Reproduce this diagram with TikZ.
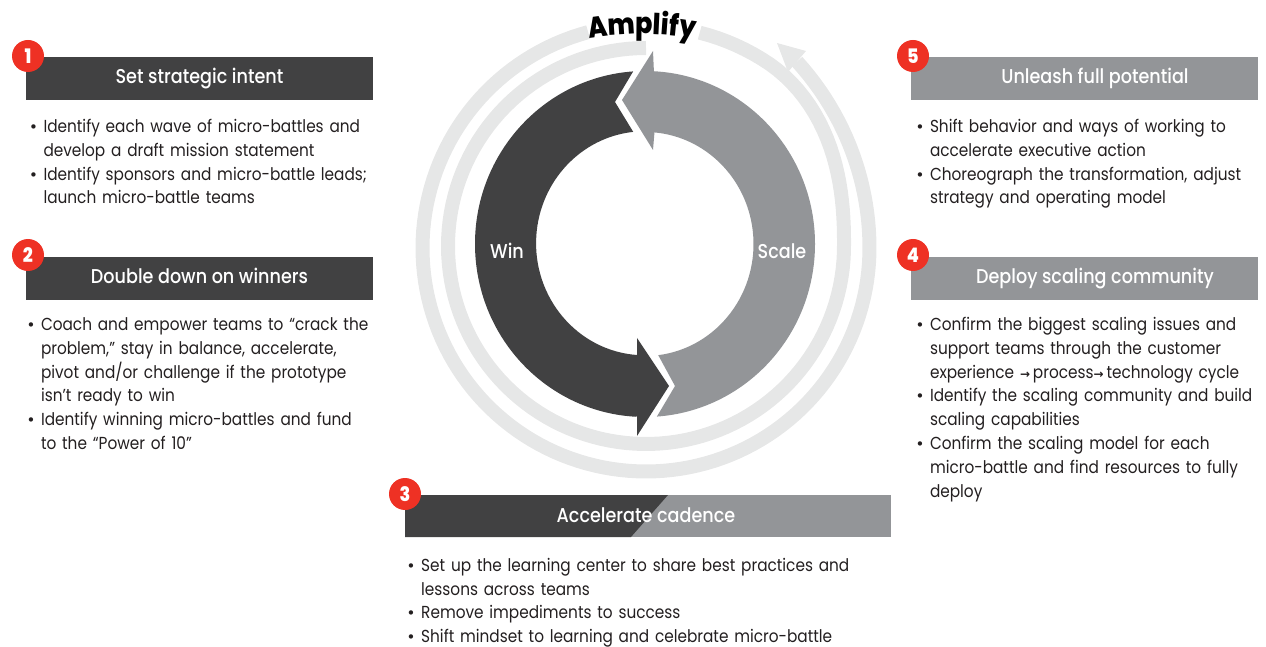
\documentclass[tikz,border=0pt]{standalone}
\usepackage{fontspec}
\setmainfont[FakeStretch=0.88]{Poppins}
\newfontfamily\headfont[FakeStretch=0.88]{Poppins Medium}
\newfontfamily\symfont{DejaVu Sans}
\usetikzlibrary{
  calc,
  decorations.text,
  positioning,
}
\definecolor{wincolor}{HTML}{414142}
\definecolor{scalecolor}{HTML}{939598}
\definecolor{ringcolor}{HTML}{E6E7E7}
\definecolor{badgecolor}{HTML}{EE3124}
\definecolor{bodycolor}{HTML}{231F20}
\newcommand{\bul}[2][14.5pt]{\par\hangindent=#1\hangafter=1\noindent\makebox[#1][l]{{\symfont\fontsize{15}{15}\selectfont •}}#2\par}
\newcommand{\toarrow}{{\symfont\bfseries\fontsize{12}{12}\selectfont →}}
\tikzset{
  headbox/.style={minimum width=347pt, minimum height=43pt, inner sep=0pt, text=white,
    text height=14pt, text depth=3pt, font=\headfont\fontsize{20}{22}\selectfont},
  winhead/.style={headbox, fill=wincolor},
  scalehead/.style={headbox, fill=scalecolor},
  badge/.style={circle, fill=badgecolor, minimum size=32pt, inner sep=0pt, text=white,
    font=\headfont\bfseries\fontsize{20}{22}\selectfont},
  listtext/.style={text width=350pt, align=left, inner sep=0pt, text=bodycolor,
    font=\fontsize{17.4}{23.9}\selectfont},
  ringline/.style={draw=ringcolor, line width=14pt},
  looplabel/.style={text=white, inner sep=0pt, font=\headfont\fontsize{20}{22}\selectfont},
  declare function={
    stepone(\t)=min(1,max(0,(\t-360)/57));
    ringone(\t)=198+2*sin(\t)+22*stepone(\t)*stepone(\t)*(3-2*stepone(\t));
    steptwo(\t)=max(0,(\t-360)/51);
    ringtwo(\t)=223.5+16.5*steptwo(\t)*steptwo(\t);
  },
}
\begin{document}
\begin{tikzpicture}[x=1pt, y=1pt]
  \useasboundingbox (0,0) rectangle (1266,646);
  \coordinate (ringcenter) at (646,398);
  \coordinate (loopcenter) at (645,402);

  % spiral
  \begin{scope}[shift={(ringcenter)}]
    \draw [ringline] plot [domain=90:436, samples=140] (\x:{ringone(\x)});
    \draw [ringline] plot [domain=105:411, samples=140] (\x:{ringtwo(\x)});
  \end{scope}
  \fill [ringcolor] (777,603) -- (806,595) -- (788,574) -- cycle;

  % big arrows
  \fill [wincolor] ($(loopcenter)+(94:170 and 173)$)
    arc [start angle=94, end angle=267, x radius=170, y radius=173]
    -- (637,230) -- (637,210) -- (669,260) -- (637,308) -- (637,291)
    arc [start angle=266, end angle=96, x radius=108.5, y radius=112]
    -- (615,544) -- cycle;
  \fill [scalecolor] ($(loopcenter)+(87:170 and 173)$)
    arc [start angle=87, end angle=-86, x radius=170, y radius=173]
    -- (675,260) -- ($(loopcenter)+(-83:108.5 and 112)$)
    arc [start angle=-83, end angle=85, x radius=108.5, y radius=112]
    -- (653,496) -- (622,546) -- (653,595) -- cycle;
  \node [looplabel] (win) at (507,395) {Win};
  \node [looplabel] (scale) at (782,395) {Scale};
  \path [decorate, decoration={text along path, text align=center,
      text={|\headfont\bfseries\fontsize{29}{29}\selectfont|Amplify}}]
    (642,300) ++(102:312) arc [start angle=102, end angle=78, radius=312];

  % left column
  \node [winhead] (intent) at (199.5,567.5) {Set strategic intent};
  \node [winhead] (winners) at (199.5,367.5) {Double down on winners};
  \node [badge] (one) at (28,590) {1};
  \node [badge] (two) at (28,391) {2};
  \node [listtext, below right=8pt and 3pt of intent.south west] (intentlist) {%
    \bul{Identify each wave of micro-battles and\newline develop a draft mission statement}%
    \bul{Identify sponsors and micro-battle leads;\newline launch micro-battle teams}};
  \node [listtext, below right=6pt and 0.5pt of winners.south west] (winnerslist) {%
    \bul{Coach and empower teams to “crack the\newline problem,” stay in balance, accelerate,\newline pivot and/or challenge if the prototype\newline isn’t ready to win}%
    \bul{Identify winning micro-battles and fund\newline to the “Power of 10”}};

  % right column
  \node [scalehead] (potential) at (1084.5,567.5) {\hspace*{21pt}Unleash full potential};
  \node [scalehead] (community) at (1084.5,367.5) {\hspace*{21pt}Deploy scaling community};
  \node [badge] (five) at (913,590) {5};
  \node [badge] (four) at (913,391) {4};
  \node [listtext, below right=8pt and 4.5pt of potential.south west] (potentiallist) {%
    \bul{Shift behavior and ways of working to\newline accelerate executive action}%
    \bul{Choreograph the transformation, adjust\newline strategy and operating model}};
  \node [listtext, below right=6pt and 4.5pt of community.south west] (communitylist) {%
    \bul{Confirm the biggest scaling issues and\newline support teams through the customer\newline experience \toarrow\,process\toarrow\,technology cycle}%
    \bul{Identify the scaling community and build\newline scaling capabilities}%
    \bul{Confirm the scaling model for each\newline micro-battle and find resources to fully\newline deploy}};

  % center
  \fill [scalecolor] (405,109) rectangle (891,151);
  \fill [wincolor] (405,109) -- (631,109) -- (668,151) -- (405,151) -- cycle;
  \node [text=white, inner sep=0pt, text height=14pt, text depth=3pt, font=\headfont\fontsize{20}{22}\selectfont] (cadence) at (646,129) {Accelerate cadence};
  \node [badge] (three) at (405,152) {3};
  \node [listtext, text width=480pt, anchor=north west] (cadencelist) at (406.5,99) {%
    \bul{Set up the learning center to share best practices and\newline lessons across teams}%
    \bul{Remove impediments to success}%
    \bul{Shift mindset to learning and celebrate micro-battle heroes}};
\end{tikzpicture}
\end{document}
